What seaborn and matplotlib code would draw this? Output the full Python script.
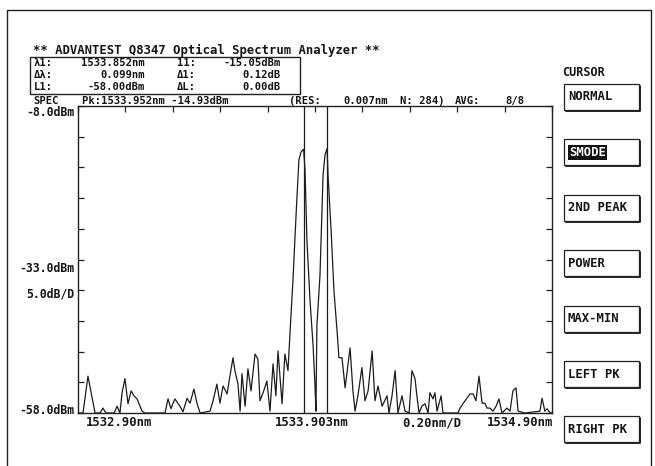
import numpy as np
import pandas as pd
import matplotlib
matplotlib.use("Agg")
import matplotlib.pyplot as plt
import seaborn as sns
from matplotlib.patches import Rectangle
from matplotlib.lines import Line2D

# -----------------------------
# DATA
# -----------------------------
wavelength = [
    1532.900, 1532.921, 1532.942, 1532.972, 1532.993, 1533.005, 1533.018, 1533.052,
    1533.065, 1533.077, 1533.086, 1533.098, 1533.111, 1533.124, 1533.136, 1533.149,
    1533.162, 1533.170, 1533.183, 1533.267, 1533.280, 1533.292, 1533.309, 1533.330,
    1533.343, 1533.360, 1533.373, 1533.389, 1533.402, 1533.415, 1533.457, 1533.470,
    1533.486, 1533.499, 1533.512, 1533.529, 1533.541, 1533.554, 1533.562, 1533.575,
    1533.584, 1533.592, 1533.605, 1533.617, 1533.630, 1533.647, 1533.659, 1533.668,
    1533.681, 1533.697, 1533.710, 1533.723, 1533.735, 1533.744, 1533.761, 1533.773,
    1533.786, 1533.795, 1533.807, 1533.820, 1533.832, 1533.841, 1533.852, 1533.858,
    1533.866, 1533.879, 1533.892, 1533.900, 1533.904, 1533.908, 1533.921, 1533.934,
    1533.942, 1533.951, 1533.955, 1533.968, 1533.980, 1533.993, 1534.001, 1534.014,
    1534.027, 1534.048, 1534.060, 1534.069, 1534.081, 1534.098, 1534.111, 1534.124,
    1534.141, 1534.153, 1534.166, 1534.183, 1534.204, 1534.212, 1534.225, 1534.238,
    1534.250, 1534.267, 1534.280, 1534.297, 1534.309, 1534.322, 1534.330, 1534.339,
    1534.351, 1534.364, 1534.377, 1534.385, 1534.398, 1534.406, 1534.415, 1534.432,
    1534.440, 1534.503, 1534.512, 1534.524, 1534.541, 1534.554, 1534.567, 1534.579,
    1534.592, 1534.605, 1534.617, 1534.626, 1534.638, 1534.651, 1534.664, 1534.676,
    1534.689, 1534.710, 1534.723, 1534.735, 1534.748, 1534.757, 1534.786, 1534.849,
    1534.858, 1534.870, 1534.879, 1534.892, 1534.900,
]
level_dbm = [
    -58.0, -58.0, -52.0, -58.0, -58.0, -57.2, -58.0, -58.0,
    -56.9, -58.0, -54.7, -52.4, -56.5, -54.4, -55.2, -55.7,
    -56.9, -57.7, -58.0, -58.0, -55.7, -57.3, -55.7, -56.9,
    -57.8, -55.6, -56.4, -54.1, -56.4, -58.0, -57.7, -56.0,
    -53.3, -56.4, -53.6, -54.9, -52.0, -49.0, -51.1, -53.3,
    -57.7, -51.6, -56.9, -50.8, -54.4, -48.4, -49.2, -56.0,
    -54.7, -52.8, -57.7, -50.0, -55.2, -47.9, -56.5, -48.4,
    -51.1, -44.6, -36.4, -25.8, -16.8, -15.5, -15.05, -18.5,
    -29.9, -39.7, -47.1, -53.6, -57.7, -43.8, -35.6, -19.3,
    -16.0, -14.93, -19.3, -28.3, -38.1, -44.6, -49.0, -49.0,
    -53.9, -47.4, -54.4, -57.7, -55.2, -50.6, -56.0, -54.4,
    -47.9, -56.0, -53.6, -56.9, -55.2, -58.0, -55.2, -51.1,
    -58.0, -55.2, -57.7, -58.0, -51.1, -52.4, -55.2, -58.0,
    -56.9, -56.5, -58.0, -54.7, -55.7, -54.7, -57.7, -55.2,
    -58.0, -58.0, -57.2, -56.5, -55.6, -54.9, -54.9, -56.0,
    -52.0, -56.4, -56.4, -57.2, -57.2, -57.7, -56.9, -55.7,
    -58.0, -57.2, -57.7, -54.4, -53.9, -57.7, -58.0, -57.7,
    -55.6, -57.7, -57.3, -58.0, -58.0,
]

cursor_nm = [1533.852, 1533.951]
x_ticks = [1532.9, 1533.1, 1533.3, 1533.5, 1533.7, 1533.9, 1534.1, 1534.3, 1534.5, 1534.7, 1534.9]
y_ticks = [-58, -53, -48, -43, -38, -33, -28, -23, -18, -13, -8]

buttons = ["NORMAL", "SMODE", "2ND PEAK", "POWER", "MAX-MIN", "LEFT PK", "RIGHT PK"]

df = pd.DataFrame({"wavelength": wavelength, "level": level_dbm})

# -----------------------------
# FIGURE
# -----------------------------
W, H = 655, 466
sns.set_style("white")
plt.rcParams["font.family"] = ["DejaVu Sans Mono"]

fig = plt.figure(figsize=(W / 100, H / 100), dpi=100)
fig.patch.set_facecolor("white")


def fx(x):
    return x / W


def fy(y):
    return 1 - y / H


INK = "#151515"


def txt(x, y, s, size=8.3, **kw):
    fig.text(fx(x), fy(y), s, va="center", fontsize=size, fontweight="bold", color=INK, **kw)


# outer frame (open at the bottom, like the screenshot)
fig.add_artist(Line2D([fx(7), fx(7), fx(651), fx(651)], [fy(470), fy(10), fy(10), fy(470)],
                      transform=fig.transFigure, lw=1.0, color="#222222"))

ax = fig.add_axes([fx(78), fy(413), fx(552) - fx(78), fy(106) - fy(413)])
sns.lineplot(data=df, x="wavelength", y="level", ax=ax, sort=False, estimator=None,
             color="#1c1c1c", lw=0.9)

for c in cursor_nm:
    ax.axvline(c, color="#1c1c1c", lw=0.9)

ax.set_xlim(1532.9, 1534.9)
ax.set_ylim(-58, -8)
ax.set_xticks(x_ticks)
ax.set_yticks(y_ticks)
ax.set_xlabel("")
ax.set_ylabel("")
ax.tick_params(axis="x", direction="in", top=True, bottom=False, labelbottom=False,
               length=4, width=0.9, color="#222222")
ax.tick_params(axis="y", direction="in", left=True, right=True, labelleft=False,
               length=4, width=0.9, color="#222222")
for s in ax.spines.values():
    s.set_color("#222222")
    s.set_linewidth(1.0)

# -----------------------------
# TEXT
# -----------------------------
txt(33, 50, "** ADVANTEST Q8347 Optical Spectrum Analyzer **", size=8.8)

# marker box
fig.add_artist(Rectangle((fx(30), fy(94)), fx(270), 37 / H, transform=fig.transFigure,
                         fill=False, lw=1.0, ec="#222222"))
rows = [
    (63.5, "λ1:", "1533.852nm", "11:", "-15.05dBm"),
    (75.0, "Δλ:", "0.099nm", "Δ1:", "0.12dB"),
    (86.5, "L1:", "-58.00dBm", "ΔL:", "0.00dB"),
]
for y, a, b, c, d in rows:
    txt(34, y, a, size=7.6)
    txt(145, y, b, size=7.6, ha="right")
    txt(177, y, c, size=7.6)
    txt(281, y, d, size=7.6, ha="right")

txt(33, 101, "SPEC", size=7.6)
txt(82, 101, "Pk:1533.952nm -14.93dBm", size=7.6)
txt(289, 101, "(RES:", size=7.6)
txt(343, 101, "0.007nm", size=7.6)
txt(400, 101, "N: 284)", size=7.6)
txt(455, 101, "AVG:", size=7.6)
txt(505, 101, "8/8", size=7.6)

txt(74, 113, "-8.0dBm", ha="right")
txt(74, 268, "-33.0dBm", ha="right")
txt(74, 294, "5.0dB/D", ha="right")
txt(74, 410, "-58.0dBm", ha="right")

txt(86, 423, "1532.90nm", size=8.8)
txt(275, 423, "1533.903nm", size=8.8)
txt(402, 423, "0.20nm/D", size=8.8)
txt(553, 423, "1534.90nm", size=8.8, ha="right")

# -----------------------------
# SOFT KEYS
# -----------------------------
txt(562, 73, "CURSOR", size=8.5)
for i, name in enumerate(buttons):
    top = 84 + i * 55.4
    bx0, bx1, by1 = 564, 639, top + 26
    fig.add_artist(Rectangle((fx(bx0), fy(by1)), fx(bx1 - bx0), 26 / H, transform=fig.transFigure,
                             fill=False, lw=0.9, ec="#222222"))
    fig.add_artist(Line2D([fx(bx0 + 2), fx(bx1 + 1), fx(bx1 + 1)], [fy(by1 + 1), fy(by1 + 1), fy(top + 2)],
                          transform=fig.transFigure, lw=1.4, color="#222222"))
    if name == "SMODE":
        fig.text(fx(569), fy(top + 13), name, va="center", fontsize=8.8, fontweight="bold",
                 color="white", bbox=dict(boxstyle="square,pad=0.1", fc="#111111", ec="none"))
    else:
        txt(568, top + 13, name, size=8.8)

fig.savefig("out.png", dpi=100)
